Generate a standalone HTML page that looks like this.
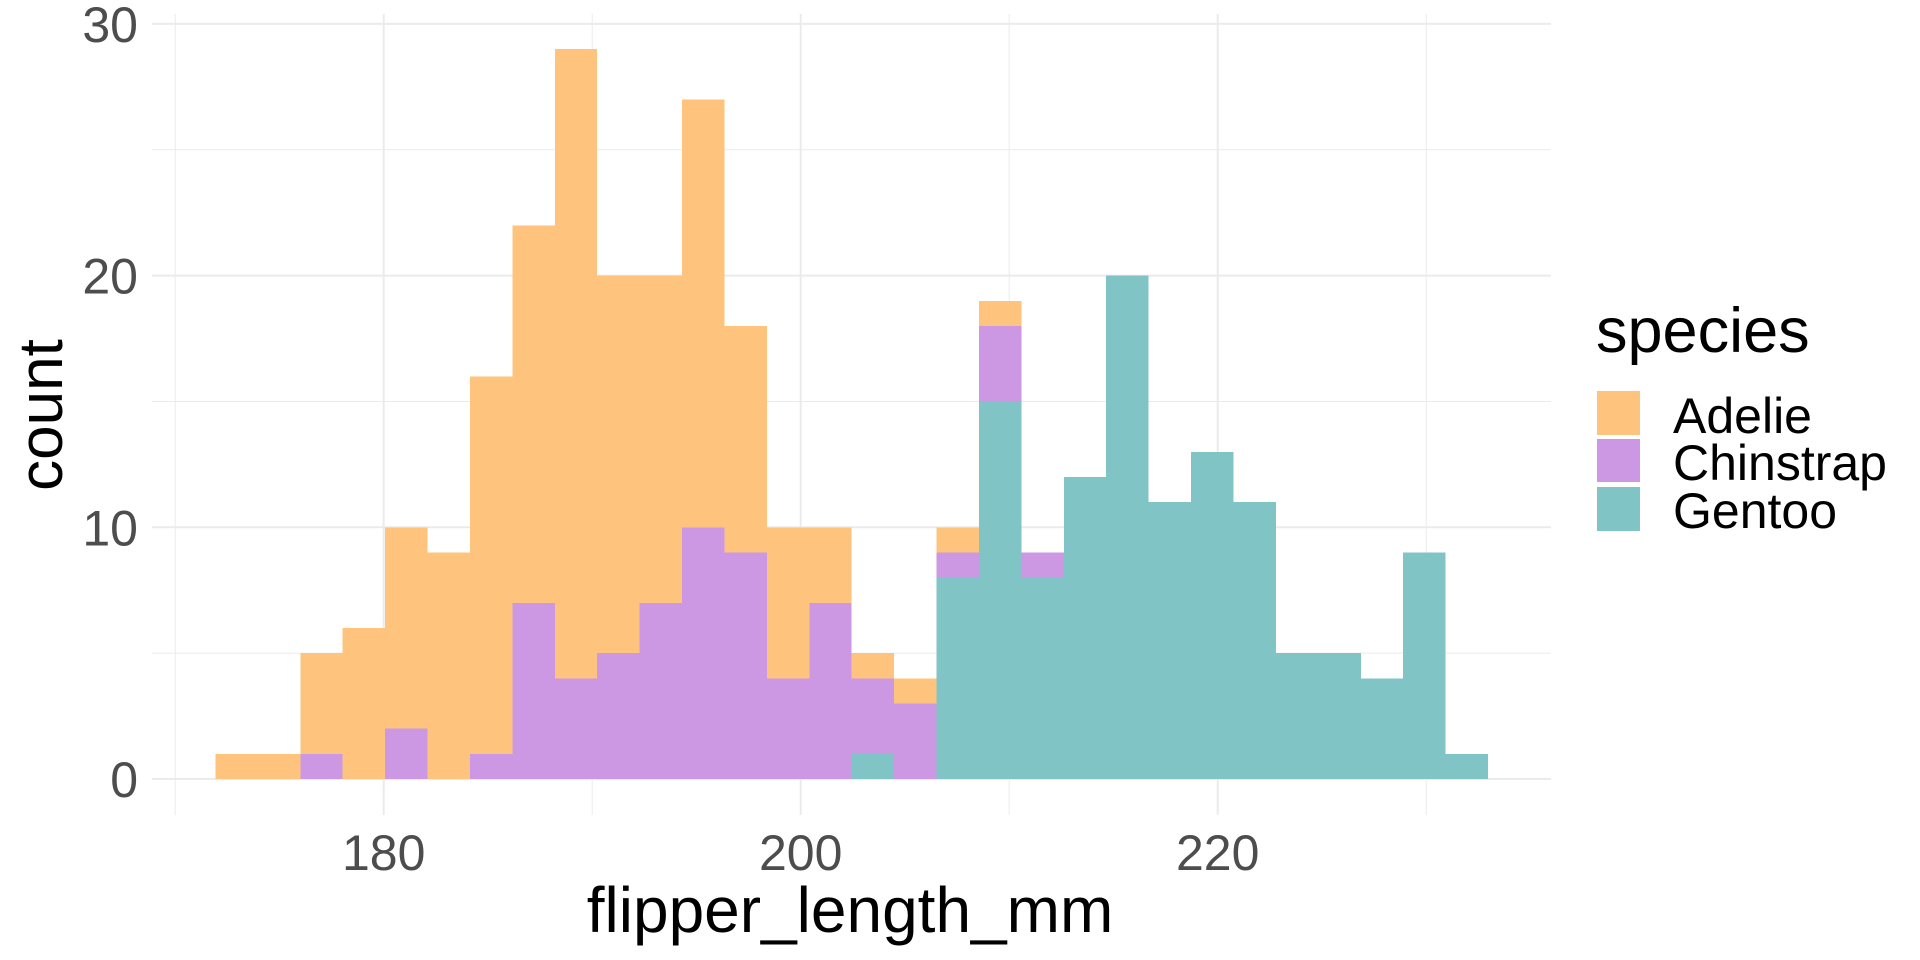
<!DOCTYPE html>
<html><head><meta charset="utf-8"><style>
html,body{margin:0;padding:0;background:#fff;}
svg{display:block;font-family:"Liberation Sans",Arial,sans-serif;}
</style></head><body>
<svg id="chart" width="1920" height="960" viewBox="0 0 1920 960" xmlns="http://www.w3.org/2000/svg">
<g id="grid"></g>
<g id="bars"></g>
<g id="axes"></g>
<text x="850" y="932" font-size="64" text-anchor="middle" fill="#000">flipper_length_mm</text>
<text transform="translate(62,415) rotate(-90)" font-size="62" text-anchor="middle" fill="#000">count</text>
<g>
<text x="1596" y="352" font-size="63" fill="#000">species</text>
<rect x="1597" y="391" width="43" height="44" fill="#fec47e"/>
<rect x="1597" y="439" width="43" height="43" fill="#cc97e3"/>
<rect x="1597" y="487" width="43" height="44" fill="#80c4c5"/>
<text x="1673" y="433" font-size="50" fill="#000">Adelie</text>
<text x="1673" y="480" font-size="50" fill="#000">Chinstrap</text>
<text x="1673" y="528" font-size="50" fill="#000">Gentoo</text>
</g>
</svg>
<script>
const binStart = 171.93;
const binWidth = 2.0345;
const gentoo    = [0,0,0,0,0,0,0,0,0,0,0,0,0,0,0,1,0,8,15,8,12,20,11,13,11,5,5,4,9,1];
const chinstrap = [0,0,1,0,2,0,1,7,4,5,7,10,9,4,7,3,3,1,3,1,0,0,0,0,0,0,0,0,0,0];
const adelie    = [1,1,4,6,8,9,15,15,25,15,13,17,9,6,3,1,1,1,1,0,0,0,0,0,0,0,0,0,0,0];
const xMajor = [180,200,220];
const xMinor = [170,190,210,230];
const yMajor = [0,10,20,30];
const yMinor = [5,15,25];

const NS = "http://www.w3.org/2000/svg";
const PL = 152, PR = 1551, PT = 14, PB = 815;
function xs(v){ return 383.7 + (v - 180) * 20.85; }
function ys(v){ return 779 - v * 25.17; }
function mk(tag, attrs, parent){
  const e = document.createElementNS(NS, tag);
  for (const k in attrs) e.setAttribute(k, attrs[k]);
  parent.appendChild(e);
  return e;
}
const grid = document.getElementById('grid');
const bars = document.getElementById('bars');
const axes = document.getElementById('axes');

yMinor.forEach(v => {
  const l = mk('line', {x1:PL, x2:PR, y1:ys(v), y2:ys(v), stroke:'#ebebeb', 'stroke-width':1}, grid);
  
  
});
xMinor.forEach(v => {
  const l = mk('line', {x1:xs(v), x2:xs(v), y1:PT, y2:PB, stroke:'#ebebeb', 'stroke-width':1}, grid);
  
  
});
yMajor.forEach(v => {
  const l = mk('line', {x1:PL, x2:PR, y1:ys(v), y2:ys(v), stroke:'#ebebeb', 'stroke-width':2}, grid);
  
  
  const t = mk('text', {x:138, y:ys(v)+18, 'font-size':50, 'text-anchor':'end', fill:'#4d4d4d'}, axes);
  t.textContent = v;
  
  
});
xMajor.forEach(v => {
  const l = mk('line', {x1:xs(v), x2:xs(v), y1:PT, y2:PB, stroke:'#ebebeb', 'stroke-width':2}, grid);
  
  
  const t = mk('text', {x:xs(v), y:870, 'font-size':50, 'text-anchor':'middle', fill:'#4d4d4d'}, axes);
  t.textContent = v;
  
  
});

const series = [
  {vals: gentoo, color:'#80c4c5', name:'gentoo'},
  {vals: chinstrap, color:'#cc97e3', name:'chinstrap'},
  {vals: adelie, color:'#fec47e', name:'adelie'}
];
for (let i = 0; i < gentoo.length; i++) {
  let base = 0;
  const x0 = xs(binStart + i * binWidth), x1 = xs(binStart + (i + 1) * binWidth);
  series.forEach(s => {
    const v = s.vals[i];
    if (v > 0) {
      const r = mk('rect', {x:x0, y:ys(base + v), width:x1 - x0, height:ys(base) - ys(base + v), fill:s.color, 'shape-rendering':'crispEdges'}, bars);
      
      
    }
    base += v;
  });
}
</script>
</body></html>
